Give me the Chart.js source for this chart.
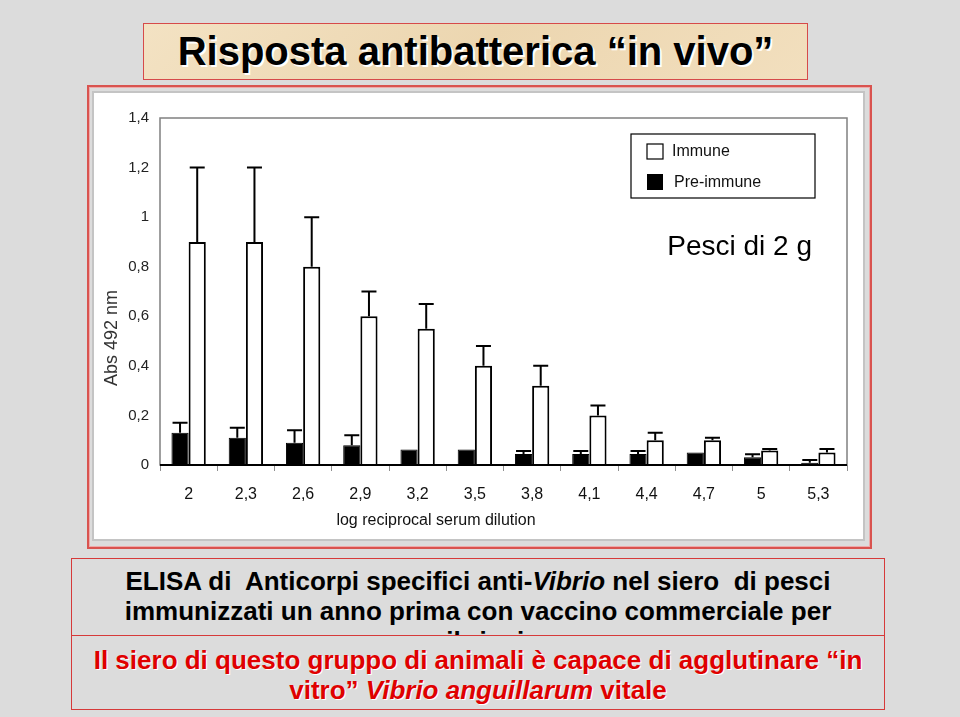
<!DOCTYPE html>
<html>
<head>
<meta charset="utf-8">
<script src="https://cdn.jsdelivr.net/npm/chart.js@4.4.0/dist/chart.umd.min.js"></script>
<style>
  body { margin: 0; width: 960px; height: 717px; overflow: hidden; background: #dcdcdc; font-family: "Liberation Sans", Arial, sans-serif; position: relative; }
  #title { position: absolute; left: 143px; top: 23px; width: 665px; height: 57px; box-sizing: border-box;
    border: 1.5px solid #d64a4a; background: linear-gradient(135deg, #f3e2c3, #ecd6b0 50%, #f2dfbe);
    text-align: center; font-weight: bold; font-size: 40px; line-height: 54px; color: #000;
    text-shadow: 2px 2px 0 #fff; }
  #chartBox { position: absolute; left: 87px; top: 85px; width: 785px; height: 464px; box-sizing: border-box;
    border: 2px solid #d9534f; box-shadow: inset 0 0 0 1px #eeaaaa; }
  #panel { position: absolute; left: 92px; top: 91px; width: 773px; height: 450px; box-sizing: border-box;
    border: 2px solid #c4c4c4; background: #fff; }
  #panel canvas { position: absolute; left: 0; top: 0; }
  .tbox { position: absolute; left: 71px; width: 814px; box-sizing: border-box; border: 1.5px solid #d63a3a;
    text-align: center; font-weight: bold; font-size: 26px; line-height: 30px; overflow: hidden; background: #dcdcdc; }
  #box1 { top: 558px; height: 78px; border-bottom: none; padding-top: 7px; color: #000; }
  #box2 { top: 635px; height: 75px; padding-top: 9px; color: #e00000; text-shadow: 1px 1px 0 #fff; }
</style>
</head>
<body>
<div id="title">Risposta antibatterica “in vivo”</div>
<div id="chartBox"></div>
<div id="panel"><canvas id="absChart" width="769" height="446"></canvas></div>
<div class="tbox" id="box1">ELISA di&nbsp; Anticorpi specifici anti-<i>Vibrio</i> nel siero&nbsp; di pesci<br>immunizzati un anno prima con vaccino commerciale per<br>vibriosi</div>
<div class="tbox" id="box2">Il siero di questo gruppo di animali è capace di agglutinare “in<br>vitro” <i>Vibrio anguillarum</i> vitale</div>
<script>
const dilutions = ['2', '2,3', '2,6', '2,9', '3,2', '3,5', '3,8', '4,1', '4,4', '4,7', '5', '5,3'];
const preImmune = [0.13, 0.11, 0.09, 0.08, 0.063, 0.063, 0.044, 0.044, 0.044, 0.05, 0.031, 0.009];
const preImmuneErr = [0.17, 0.15, 0.14, 0.12, null, null, 0.056, 0.056, 0.056, null, 0.043, 0.02];
const immune = [0.9, 0.9, 0.8, 0.6, 0.55, 0.4, 0.32, 0.2, 0.1, 0.1, 0.058, 0.05];
const immuneErr = [1.2, 1.2, 1.0, 0.7, 0.65, 0.48, 0.4, 0.24, 0.13, 0.11, 0.065, 0.065];
const yTicks = [0, 0.2, 0.4, 0.6, 0.8, 1, 1.2, 1.4];

const FONT = '"Liberation Sans", Arial, sans-serif';

// error bars, frame, legend and annotation
const extras = {
    id: 'extras',
    beforeDatasetsDraw(chart) {
        const { ctx, chartArea: a } = chart;
        ctx.save();
        ctx.strokeStyle = '#808080';
        ctx.lineWidth = 1.5;
        ctx.strokeRect(a.left, a.top, a.right - a.left, a.bottom - a.top);
        ctx.restore();
    },
    afterDatasetsDraw(chart) {
        const { ctx, chartArea: a } = chart;
        const y = chart.scales.y;
        const errs = [preImmuneErr, immuneErr];
        ctx.save();
        ctx.strokeStyle = '#000';
        ctx.lineWidth = 2;
        chart.data.datasets.forEach((ds, i) => {
            chart.getDatasetMeta(i).data.forEach((bar, j) => {
                const e = errs[i][j];
                if (e == null) return;
                const ye = y.getPixelForValue(e);
                ctx.beginPath();
                ctx.moveTo(bar.x, bar.y);
                ctx.lineTo(bar.x, ye);
                ctx.moveTo(bar.x - 7.5, ye);
                ctx.lineTo(bar.x + 7.5, ye);
                ctx.stroke();
            });
        });
        // x axis line
        ctx.beginPath();
        ctx.lineWidth = 2;
        ctx.moveTo(a.left, a.bottom);
        ctx.lineTo(a.right, a.bottom);
        ctx.stroke();

        // legend box
        const lx = a.right - 216, ly = a.top + 16;
        ctx.lineWidth = 1.2;
        ctx.strokeRect(lx, ly, 184, 64);
        ctx.font = '16px ' + FONT;
        ctx.textBaseline = 'middle';
        ctx.fillStyle = '#fff';
        ctx.fillRect(lx + 16, ly + 10, 16, 15);
        ctx.strokeRect(lx + 16, ly + 10, 16, 15);
        ctx.fillStyle = '#000';
        ctx.fillRect(lx + 16, ly + 40, 16, 16);
        ctx.fillStyle = '#111';
        ctx.fillText(chart.data.datasets[1].label, lx + 41, ly + 18);
        ctx.fillText(chart.data.datasets[0].label, lx + 43, ly + 49);

        ctx.font = '28px ' + FONT;
        ctx.textAlign = 'right';
        ctx.textBaseline = 'alphabetic';
        ctx.fillStyle = '#000';
        ctx.fillText('Pesci di 2 g', a.right - 35, a.top + 137);

        // axis titles
        ctx.font = '16px ' + FONT;
        ctx.textAlign = 'center';
        ctx.textBaseline = 'middle';
        ctx.fillStyle = '#111';
        ctx.fillText('log reciprocal serum dilution', a.left + 276, a.bottom + 56);
        ctx.translate(18, a.top + 220);
        ctx.rotate(-Math.PI / 2);
        ctx.font = '18px ' + FONT;
        ctx.fillStyle = '#333';
        ctx.fillText('Abs 492 nm', 0, 0);
        ctx.restore();
    }
};

new Chart(document.getElementById('absChart'), {
    type: 'bar',
    data: {
        labels: dilutions,
        datasets: [{
            label: 'Pre-immune',
            data: preImmune,
            backgroundColor: '#000',
            borderColor: '#000',
            borderWidth: 1,
            categoryPercentage: 0.6,
            barPercentage: 1.0
        }, {
            label: 'Immune',
            data: immune,
            backgroundColor: '#fff',
            borderColor: '#000',
            borderWidth: 2,
            categoryPercentage: 0.6,
            barPercentage: 1.0
        }]
    },
    options: {
        responsive: false,
        animation: false,
        layout: { padding: { left: 0, right: 16, top: 25, bottom: 0 } },
        plugins: { legend: { display: false }, tooltip: { enabled: false } },
        scales: {
            x: {
                border: { display: false },
                grid: { drawOnChartArea: false, drawTicks: true, tickLength: 6, color: '#909090', offset: true },
                ticks: { font: { family: FONT, size: 16 }, color: '#111', padding: 14, maxRotation: 0, autoSkip: false },
                afterFit: s => { s.height = 74; }
            },
            y: {
                min: 0,
                max: 1.4,
                border: { display: false },
                grid: { display: false, drawTicks: false },
                afterBuildTicks: s => { s.ticks = yTicks.map(v => ({ value: v })); },
                ticks: {
                    font: { family: FONT, size: 15 },
                    color: '#222',
                    padding: 11,
                    callback: v => String(v).replace('.', ',')
                },
                afterFit: s => { s.width = 66; }
            }
        }
    },
    plugins: [extras]
});
</script>
</body>
</html>
